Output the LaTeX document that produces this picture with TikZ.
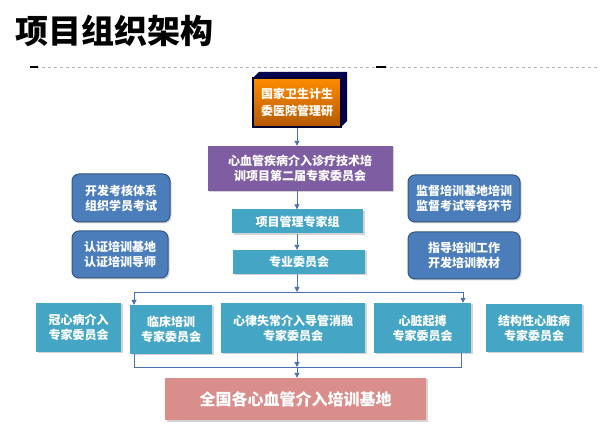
\documentclass[tikz,border=0pt]{standalone}
\usepackage{fontspec}
\newfontfamily\cjk{Noto Sans CJK SC}
\usetikzlibrary{arrows.meta,shadows}
\definecolor{teal1}{HTML}{45A5C4}
\definecolor{blue1}{HTML}{4A7DBA}
\definecolor{purp}{HTML}{7E5DA3}
\definecolor{pink1}{HTML}{D98E8C}
\definecolor{arr}{HTML}{4A72B0}
\tikzset{
 box/.style={draw=none,text=white,font=\cjk\bfseries\fontsize{12}{15}\selectfont,align=center,inner sep=0pt,drop shadow={shadow xshift=1.5pt,shadow yshift=-1.5pt,opacity=0.35}},
 tealbox/.style={box,fill=teal1},
 rbox/.style={box,fill=blue1,draw=blue1!70!black,line width=1pt,rounded corners=7pt},
 con/.style={draw=arr,line width=0.9pt},
 arw/.style={con,-{Triangle[length=5pt,width=5pt]}}
}
\begin{document}
\begin{tikzpicture}[x=1pt,y=-1pt]
\useasboundingbox (0,0) rectangle (600,430);
\node[anchor=west,font=\cjk\bfseries\fontsize{33}{36}\selectfont,inner sep=0pt] (title) at (15,31) {项目组织架构};
\draw[gray!60,dashed,line width=0.5pt] (30,67) -- (600,67);
\draw[line width=2pt] (30,67) -- (38,67) (376,67) -- (386,67);
% top 3D box
\fill[black!70!blue] (253,78) -- (259,72) -- (347,72) -- (347,121) -- (341,127) -- cycle;
\node[draw=black!80!blue,line width=1.5pt,top color=orange!90!yellow,bottom color=orange!70!black,minimum width=88pt,minimum height=49pt,text=white,font=\cjk\bfseries\fontsize{12}{17}\selectfont,align=center,inner sep=0pt] (top) at (297,102.5) {国家卫生计生\\委医院管理研};
\node[box,fill=purp,minimum width=185pt,minimum height=45pt] (purple) at (300,168.5) {心血管疾病介入诊疗技术培\\训项目第二届专家委员会};
\node[tealbox,minimum width=131pt,minimum height=24pt] (pm) at (297.5,221.5) {项目管理专家组};
\node[tealbox,minimum width=132pt,minimum height=24pt] (zy) at (299,262) {专业委员会};
\node[rbox,minimum width=98pt,minimum height=48pt] (l1) at (121,198) {开发考核体系\\组织学员考试};
\node[rbox,minimum width=96pt,minimum height=47pt] (l2) at (120,254.5) {认证培训基地\\认证培训导师};
\node[rbox,minimum width=112pt,minimum height=47pt] (r1) at (464,198.5) {监督培训基地培训\\监督考试等各环节};
\node[rbox,minimum width=112pt,minimum height=47pt] (r2) at (464,255.5) {指导培训工作\\开发培训教材};
\node[tealbox,minimum width=85pt,minimum height=49pt] (b1) at (78.5,327.5) {冠心病介入\\专家委员会};
\node[tealbox,minimum width=82pt,minimum height=49pt] (b2) at (171,329.5) {临床培训\\专家委员会};
\node[tealbox,minimum width=144pt,minimum height=50pt] (b3) at (293,328) {心律失常介入导管消融\\专家委员会};
\node[tealbox,minimum width=97pt,minimum height=50pt] (b4) at (422.5,328) {心脏起搏\\专家委员会};
\node[tealbox,minimum width=96pt,minimum height=48pt] (b5) at (534,328) {结构性心脏病\\专家委员会};
\node[box,fill=pink1,minimum width=261pt,minimum height=42pt,font=\cjk\bfseries\fontsize{16}{19}\selectfont] (base) at (295.5,399) {全国各心血管介入培训基地};
\coordinate (bl) at (134,292);
\coordinate (br) at (463,292);
\coordinate (jn) at (297,292);
\coordinate (ll) at (134,367);
\coordinate (lr) at (461,367);
\coordinate (lm) at (297,367);
\draw[arw] (top.south -| 297,0) -- (purple.north -| 297,0);
\draw[arw] (purple.south -| 297,0) -- (pm.north -| 297,0);
\draw[arw] (pm.south -| 297,0) -- (zy.north -| 297,0);
\draw[arw] (zy.south -| 297,0) -- (jn);
\draw[con] (bl) -- (br);
\draw[arw] (bl) -- (b2.north -| bl);
\draw[arw] (br) -- (b4.north -| br);
\draw[con] (b2.south -| ll) -- (ll) -- (lr) -- (b4.south -| lr);
\draw[arw] (b3.south -| lm) -- (lm);
\draw[arw] (lm) -- (base.north -| lm);
\end{tikzpicture}
\end{document}
